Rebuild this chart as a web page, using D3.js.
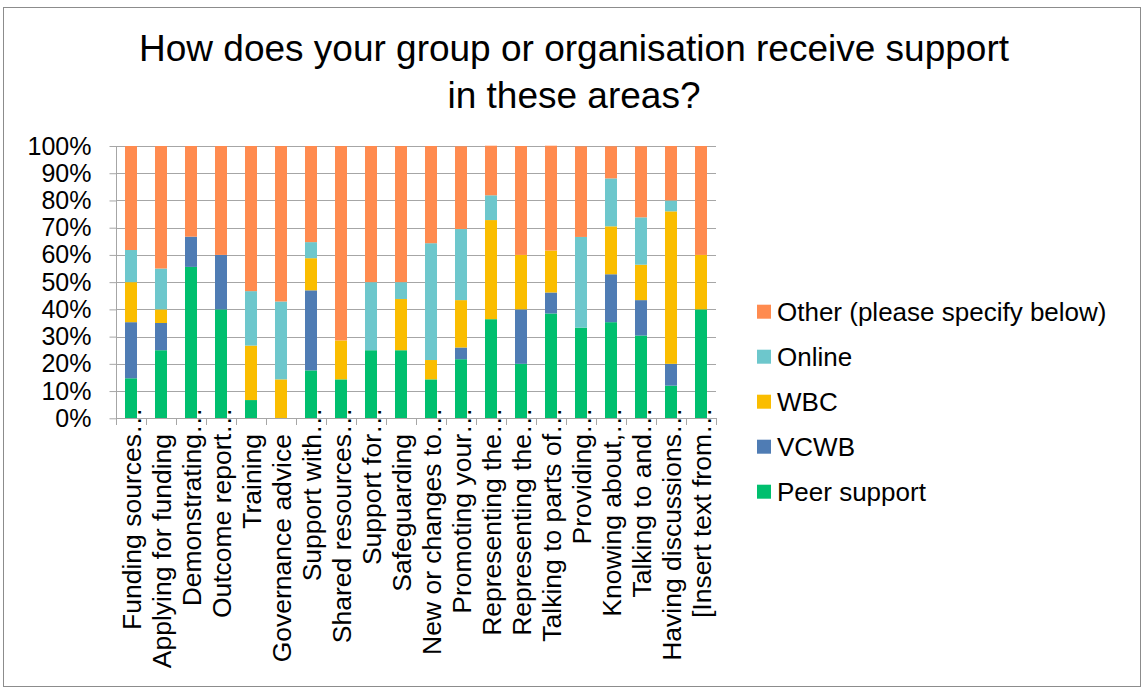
<!DOCTYPE html>
<html>
<head>
<meta charset="utf-8">
<script src="https://cdn.jsdelivr.net/npm/d3@7"></script>
<style>
  html, body { margin: 0; padding: 0; background: #fff; }
  svg { display: block; font-family: "Liberation Sans", Arial, sans-serif; }
</style>
</head>
<body>
<svg id="chart" width="1142" height="687"></svg>
<script>
// Support areas (labels ending in "…" are shortened by the axis)
const categories = [
  "Funding sources…", "Applying for funding", "Demonstrating…", "Outcome report…",
  "Training", "Governance advice", "Support with…", "Shared resources…",
  "Support for…", "Safeguarding", "New or changes to…", "Promoting your…",
  "Representing the…", "Representing the…", "Talking to parts of…", "Providing…",
  "Knowing about,…", "Talking to and…", "Having discussions…", "[Insert text from…"
];

// Share of responses per channel (percent)
const peerSupport = [14.7, 25.0, 55.6, 40.0, 6.7, 0.0, 17.6, 14.3, 25.0, 25.0, 14.3, 21.7, 36.4, 20.0, 38.5, 33.3, 35.3, 30.4, 12.0, 40.0];
const vcwb        = [20.6, 10.0, 11.1, 20.0, 0.0, 0.0, 29.4, 0.0, 0.0, 0.0, 0.0, 4.3, 0.0, 20.0, 7.7, 0.0, 17.6, 13.0, 8.0, 0.0];
const wbc         = [14.7, 5.0, 0.0, 0.0, 20.0, 14.3, 11.8, 14.3, 0.0, 18.8, 7.1, 17.4, 36.4, 20.0, 15.4, 0.0, 17.6, 13.0, 56.0, 20.0];
const online      = [11.8, 15.0, 0.0, 0.0, 20.0, 28.6, 5.9, 0.0, 25.0, 6.2, 42.9, 26.1, 9.1, 0.0, 0.0, 33.3, 17.6, 17.4, 4.0, 0.0];
const other       = [38.2, 45.0, 33.3, 40.0, 53.3, 57.1, 35.3, 71.4, 50.0, 50.0, 35.7, 30.4, 18.2, 40.0, 38.5, 33.3, 11.8, 26.1, 20.0, 40.0];

const seriesNames = ["Peer support", "VCWB", "WBC", "Online", "Other (please specify below)"];
const seriesColors = ["#00BF6E", "#4F7CB4", "#FABD00", "#6DC7CC", "#FF8B4F"];
const yTickValues = [0, 10, 20, 30, 40, 50, 60, 70, 80, 90, 100];

const svg = d3.select("#chart");

// Outer chart frame
svg.append("rect")
  .attr("x", 3.5).attr("y", 7.5)
  .attr("width", 1137).attr("height", 679)
  .attr("fill", "none").attr("stroke", "#8c8c8c").attr("stroke-width", 1);

// Title
const title = svg.append("text")
  .attr("text-anchor", "middle")
  .attr("font-size", 37)
  .attr("fill", "#000");
title.append("tspan").attr("x", 574).attr("y", 61).text("How does your group or organisation receive support");
title.append("tspan").attr("x", 574).attr("y", 108).text("in these areas?");

const plot = { left: 116, right: 716, top: 146, bottom: 418.3 };

const x = d3.scaleBand()
  .domain(d3.range(categories.length))
  .range([plot.left, plot.right])
  .paddingInner(0.6)
  .paddingOuter(0.3);

const y = d3.scaleLinear().domain([0, 100]).range([plot.bottom, plot.top]);

// Horizontal gridlines
svg.append("g")
  .selectAll("line")
  .data(yTickValues)
  .join("line")
  .attr("x1", plot.left).attr("x2", plot.right)
  .attr("y1", d => Math.round(y(d)) + 0.5).attr("y2", d => Math.round(y(d)) + 0.5)
  .attr("stroke", "#a6a6a6").attr("stroke-width", 1);

// Stacked bars
const rows = categories.map((c, i) => ({
  idx: i,
  "Peer support": peerSupport[i],
  "VCWB": vcwb[i],
  "WBC": wbc[i],
  "Online": online[i],
  "Other (please specify below)": other[i]
}));
const stacked = d3.stack().keys(seriesNames)(rows);

svg.append("g")
  .selectAll("g")
  .data(stacked)
  .join("g")
  .attr("fill", (d, i) => seriesColors[i])
  .selectAll("rect")
  .data(d => d)
  .join("rect")
  .attr("x", d => x(d.data.idx))
  .attr("width", x.bandwidth())
  .attr("y", d => y(d[1]))
  .attr("height", d => Math.max(0, y(d[0]) - y(d[1])));

// Y axis
const yAxis = svg.append("g")
  .attr("transform", `translate(${plot.left + 0.5},0)`)
  .call(d3.axisLeft(y).tickValues(yTickValues).tickSize(7).tickPadding(18).tickFormat(d => d + "%"));
yAxis.select(".domain").attr("stroke", "#a6a6a6").attr("d", `M0,${plot.top}V${plot.bottom}`);
yAxis.selectAll(".tick line").attr("stroke", "#a6a6a6");
yAxis.selectAll(".tick text")
  .attr("font-size", 25)
  .attr("font-family", "Liberation Sans, Arial, sans-serif")
  .attr("fill", "#000");

// X axis baseline and category boundary ticks
const boundaries = d3.range(categories.length + 1).map(i => plot.left + i * x.step());
svg.append("line")
  .attr("x1", plot.left).attr("x2", plot.right)
  .attr("y1", Math.round(plot.bottom) + 0.5).attr("y2", Math.round(plot.bottom) + 0.5)
  .attr("stroke", "#a6a6a6");
svg.append("g")
  .selectAll("line")
  .data(boundaries)
  .join("line")
  .attr("x1", d => Math.round(d) + 0.5).attr("x2", d => Math.round(d) + 0.5)
  .attr("y1", Math.round(plot.bottom)).attr("y2", Math.round(plot.bottom) + 7)
  .attr("stroke", "#a6a6a6");

// Rotated category labels; the ellipsis of shortened labels runs up past the axis
const labelEnd = 434;
const lab = svg.append("g")
  .selectAll("g")
  .data(categories)
  .join("g")
  .attr("transform", (d, i) => `translate(${x(i) + x.bandwidth() / 2 + 10},${labelEnd}) rotate(-90)`)
  .attr("font-size", 26.5)
  .attr("fill", "#000");
lab.append("text")
  .attr("text-anchor", "end")
  .text(d => d.endsWith("…") ? d.slice(0, -1) : d);
lab.filter(d => d.endsWith("…"))
  .append("text")
  .attr("text-anchor", "start")
  .text("…");

// Legend (top entry is the top of the stack)
const legendItems = seriesNames.map((n, i) => ({ name: n, color: seriesColors[i] })).reverse();
const lg = svg.append("g")
  .selectAll("g")
  .data(legendItems)
  .join("g")
  .attr("transform", (d, i) => `translate(757,${311.7 + i * 45})`);
lg.append("rect")
  .attr("x", 0).attr("y", -7).attr("width", 14).attr("height", 14)
  .attr("fill", d => d.color);
lg.append("text")
  .attr("x", 20).attr("y", 9.3)
  .attr("font-size", 26)
  .attr("fill", "#000")
  .text(d => d.name);
</script>
</body>
</html>
